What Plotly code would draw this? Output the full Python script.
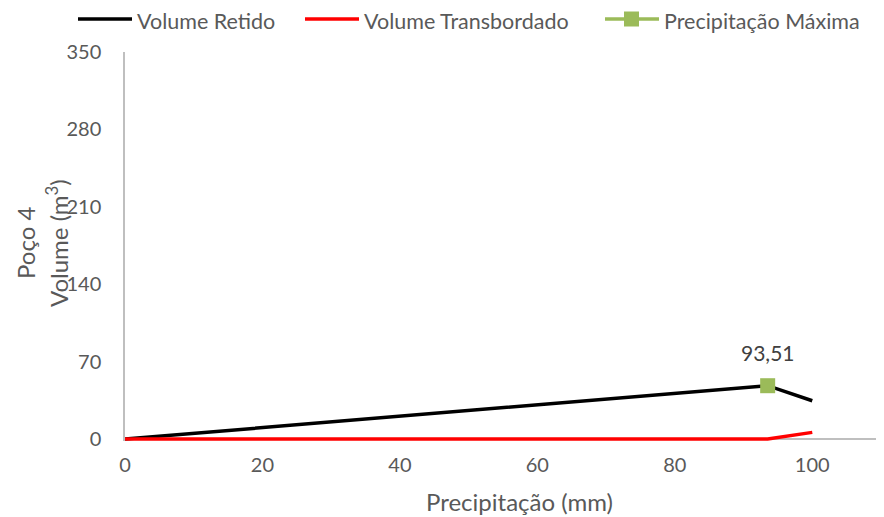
import plotly.graph_objects as go

# Poço 4 - volume retido x transbordado
precip = [0, 93.51, 100]
vol_retido = [0, 48.2, 34.6]
vol_transb = [0, 0, 6.0]
precip_max = [93.51]
vol_max = [48.2]
rotulo_max = ["93,51"]
nomes = ["Volume Retido", "Volume Transbordado", "Precipitação Máxima"]
cores = ["black", "#ff0000", "#9bbb59"]

fonte = "Lato"
cinza = "#595959"

# a pagina tem 8px de margem no body; area do grafico em px da figura
# (eixo y comeca um pouco abaixo de zero para a linha vermelha nao ser cortada)
L, T, W, H = 117, 44, 756, 389


def xp(px):
    return (px - 8 - L) / W


def yp(py):
    return (T + H - (py - 8)) / H


fig = go.Figure()

fig.add_trace(go.Scatter(x=precip, y=vol_retido, mode="lines", name=nomes[0],
                         line=dict(color=cores[0], width=3.5)))
fig.add_trace(go.Scatter(x=precip, y=vol_transb, mode="lines", name=nomes[1],
                         line=dict(color=cores[1], width=3.5)))
fig.add_trace(go.Scatter(x=precip_max, y=vol_max, mode="markers", name=nomes[2],
                         marker=dict(symbol="square", size=15, color=cores[2])))

fig.add_annotation(x=precip_max[0], y=vol_max[0], text=rotulo_max[0], showarrow=False,
                   yshift=33, font=dict(size=21, color="#404040", family=fonte))

# legenda feita a mao (linhas mais longas como no Excel)
leg_x = [78, 305, 605]
for i, nome in enumerate(nomes):
    x0 = leg_x[i]
    fig.add_shape(type="line", xref="paper", yref="paper", x0=xp(x0), x1=xp(x0 + 54),
                  y0=yp(19), y1=yp(19), line=dict(color=cores[i], width=3.5))
    fig.add_annotation(xref="paper", yref="paper", x=xp(x0 + 57), y=yp(21.5), text=nome,
                       xanchor="left", yanchor="middle", showarrow=False,
                       font=dict(size=21.5, color=cinza, family=fonte))
fig.add_shape(type="rect", xref="paper", yref="paper", x0=xp(624), x1=xp(639),
              y0=yp(26.5), y1=yp(11.5), fillcolor=cores[2], line=dict(width=0))

# titulos dos eixos
fig.add_annotation(x=xp(25), y=yp(243), xref="paper", yref="paper", text="Poço 4",
                   textangle=-90, showarrow=False, xanchor="center", yanchor="middle",
                   font=dict(size=24, color=cinza, family=fonte))
fig.add_annotation(x=xp(57), y=yp(243), xref="paper", yref="paper", text="Volume (m<sup>3</sup>)",
                   textangle=-90, showarrow=False, xanchor="center", yanchor="middle",
                   font=dict(size=24, color=cinza, family=fonte))
fig.add_annotation(x=xp(519), y=yp(501), xref="paper", yref="paper", text="Precipitação (mm)",
                   showarrow=False, xanchor="center", yanchor="middle",
                   font=dict(size=24, color=cinza, family=fonte))

fig.update_layout(
    width=884, height=517,
    margin=dict(l=L, r=884 - L - W, t=T, b=517 - T - H, autoexpand=False),
    plot_bgcolor="white", paper_bgcolor="white",
    font=dict(family=fonte, color=cinza, size=20),
    showlegend=False,
    xaxis=dict(range=[0, 110], tickvals=[0, 20, 40, 60, 80, 100], showgrid=False, zeroline=False,
               showline=False, ticks="", automargin=False, ticklabelstandoff=10),
    yaxis=dict(range=[-1.8, 350], tickvals=[0, 70, 140, 210, 280, 350], showgrid=False,
               zeroline=True, zerolinecolor="#bfbfbf", zerolinewidth=1.5,
               showline=True, linecolor="#bfbfbf", linewidth=1.5, ticks="", ticklabelstandoff=18,
               automargin=False),
)

fig.write_html("out.html")
